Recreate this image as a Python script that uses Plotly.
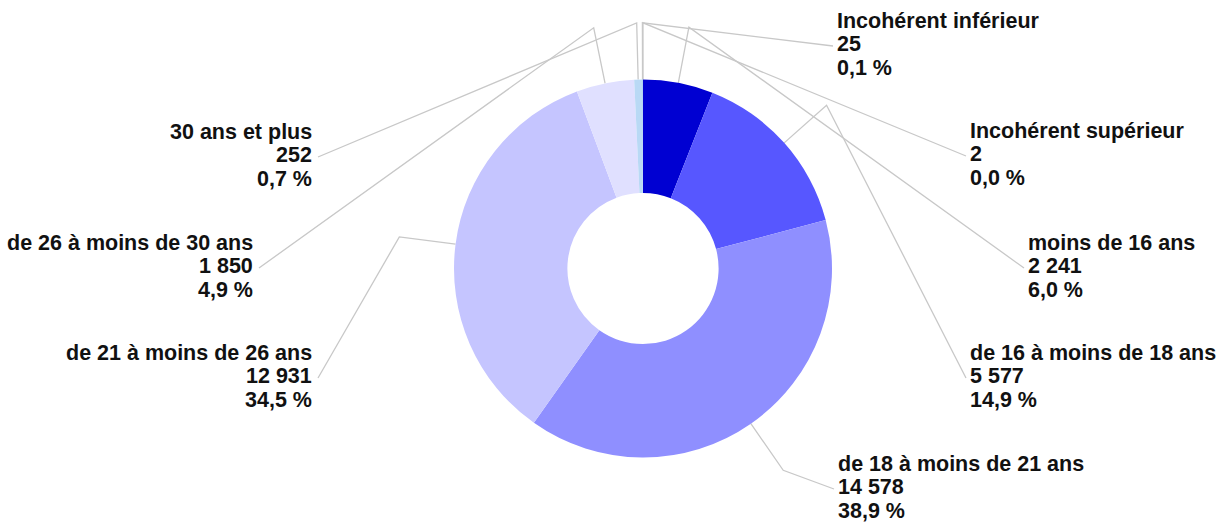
import math
import plotly.graph_objects as go

# ---- data ----
categories = [
    "moins de 16 ans",
    "de 16 à moins de 18 ans",
    "de 18 à moins de 21 ans",
    "de 21 à moins de 26 ans",
    "de 26 à moins de 30 ans",
    "30 ans et plus",
    "Incohérent inférieur",
    "Incohérent supérieur",
]
values = [2241, 5577, 14578, 12931, 1850, 252, 25, 2]
colors = ["#0000d2", "#5757ff", "#8f8fff", "#c5c5ff", "#e0e0ff", "#b9d9f5", "#99c4ee", "#d0d0ff"]

# ---- layout constants (pixels) ----
W, H = 1228, 525
CX, CY, R = 643.0, 268.5, 189.0
HOLE = 0.4
ELBOW = 1.3
LINE_GAP = 23.5
# label placement: (edge x, middle-line y, side)
label_pos = [
    (1027, 266, "r"),
    (969, 376, "r"),
    (837, 487, "r"),
    (313, 376, "l"),
    (254, 266, "l"),
    (313, 155, "l"),
    (836, 44, "r"),
    (969, 154, "r"),
]

total = sum(values)
val_txt = [f"{v:,}".replace(",", " ") for v in values]
pct_txt = [f"{100 * v / total:.1f}".replace(".", ",") + " %" for v in values]

fig = go.Figure()

# leader lines computed from slice mid-angles
lx, ly = [], []
cum = 0.0
for i, v in enumerate(values):
    a = math.radians((cum + v / 2) / total * 360.0)
    cum += v
    ex, ey = CX + R * math.sin(a), CY - R * math.cos(a)
    bx, by = CX + R * ELBOW * math.sin(a), CY - R * ELBOW * math.cos(a)
    px, py, side = label_pos[i]
    tx = px - 3 if side == "r" else px + 5
    lx += [ex, bx, tx, None]
    ly += [ey, by, py + 2, None]

fig.add_trace(go.Scatter(
    x=lx, y=ly, mode="lines",
    line=dict(color="#c8c8c8", width=1.3),
    hoverinfo="skip", showlegend=False,
))

fig.add_trace(go.Pie(
    labels=categories, values=values, sort=False,
    direction="clockwise", rotation=0, hole=HOLE,
    marker=dict(colors=colors, line=dict(width=0)),
    textinfo="none", hoverinfo="skip", showlegend=False,
    domain=dict(x=[(CX - R) / W, (CX + R) / W], y=[1 - (CY + R) / H, 1 - (CY - R) / H]),
))

font = dict(family="Liberation Sans, Arial, sans-serif", size=21.5, color="#111111")
annotations = []
for i, cat in enumerate(categories):
    px, py, side = label_pos[i]
    for k, t in enumerate([cat, val_txt[i], pct_txt[i]]):
        annotations.append(dict(
            x=px, y=py + (k - 1) * LINE_GAP, xref="x", yref="y",
            text=f"<b>{t}</b>", showarrow=False,
            xanchor="left" if side == "r" else "right", yanchor="middle",
            font=font, borderpad=0,
        ))

fig.update_layout(
    width=W, height=H,
    margin=dict(l=0, r=0, t=0, b=0),
    paper_bgcolor="white", plot_bgcolor="white",
    xaxis=dict(range=[0, W], visible=False, domain=[0, 1], fixedrange=True),
    yaxis=dict(range=[H, 0], visible=False, domain=[0, 1], fixedrange=True),
    annotations=annotations,
    showlegend=False,
)

fig.write_html("out.html", config={"displayModeBar": False},
               post_script="document.body.style.margin='0';")
